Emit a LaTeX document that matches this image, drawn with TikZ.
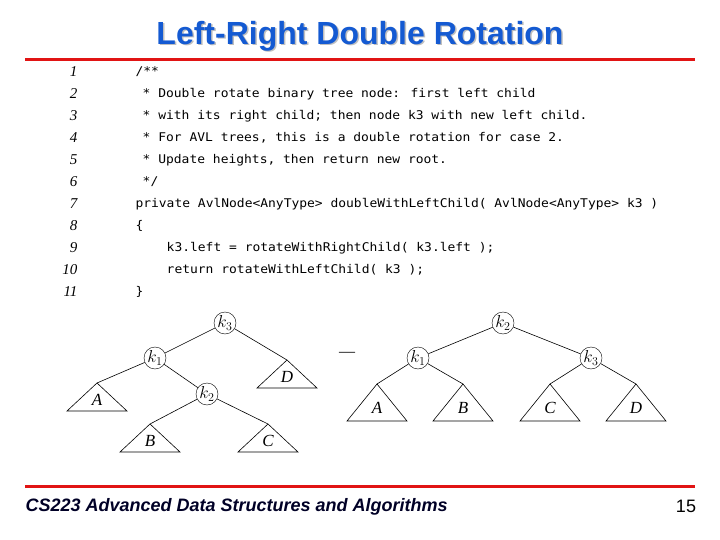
\documentclass[tikz,border=0pt]{standalone}
\usepackage{fontspec}
\usetikzlibrary{calc}
\setmainfont{Liberation Serif}
\setsansfont{Liberation Sans}
\newfontfamily\codefont[FakeStretch=1.08]{DejaVu Sans Mono}
\definecolor{titleblue}{RGB}{20,90,210}
\definecolor{rulered}{RGB}{225,20,20}
\begin{document}
\begin{tikzpicture}[x=1pt,y=-1pt,
  key/.style={circle,draw,inner sep=0pt,minimum size=22pt,font=\fontsize{17}{17}\selectfont},
  tri/.style={draw,line width=0.6pt},
  tlabel/.style={font=\itshape\fontsize{17}{17}\selectfont},
  edge/.style={line width=0.6pt},
  num/.style={anchor=east,font=\itshape\fontsize{15}{15}\selectfont},
  code/.style={anchor=west,font=\codefont\fontsize{12}{12}\selectfont}]
\useasboundingbox (0,0) rectangle (720,540);
% title
\node[font=\sffamily\bfseries\fontsize{32}{32}\selectfont,text=gray!50] at (361.5,37.5) {Left-Right Double Rotation};
\node[font=\sffamily\bfseries\fontsize{32}{32}\selectfont,text=titleblue] (title) at (360,36) {Left-Right Double Rotation};
\draw[rulered,line width=3pt] (25,60) -- (695,60);
\draw[rulered,line width=3pt] (25,486) -- (695,486);
% code
\foreach \n/\t [count=\i from 0] in {1/{/**},2/{\hspace*{0.6em}* Double rotate binary tree node: first left child},
 3/{\hspace*{0.6em}* with its right child; then node k3 with new left child.},4/{\hspace*{0.6em}* For AVL trees, this is a double rotation for case 2.},
 5/{\hspace*{0.6em}* Update heights, then return new root.},6/{\hspace*{0.6em}*/},7/{private AvlNode<AnyType> doubleWithLeftChild( AvlNode<AnyType> k3 )},
 8/{\{},9/{\hspace*{2.6em}k3.left = rotateWithRightChild( k3.left );},10/{\hspace*{2.6em}return rotateWithLeftChild( k3 );},11/{\}}}{
  \node[num] (n\n) at (81,72+22*\i) {\n};
  \node[code] (c\n) at (132,72+22*\i) {\t};
}
% left tree
\node[key] (L3) at (225,323) {$k_3$};
\node[key] (L1) at (155,358) {$k_1$};
\node[key] (L2) at (207,394) {$k_2$};
\coordinate (LD) at (287,360);
\coordinate (LA) at (97,383);
\coordinate (LB) at (150,424);
\coordinate (LC) at (268,424);
\foreach \c/\l in {LD/D,LA/A,LB/B,LC/C}{
  \draw[tri] (\c) -- ++(-30,28) -- ++(60,0) -- cycle;
  \node[tlabel] at ($(\c)+(0,17)$) {\l};
}
\draw[edge] (L3) -- (L1); \draw[edge] (L3) -- (LD);
\draw[edge] (L1) -- (LA); \draw[edge] (L1) -- (L2);
\draw[edge] (L2) -- (LB); \draw[edge] (L2) -- (LC);
% arrow
\node[font=\fontsize{16}{16}\selectfont] (arr) at (347,354) {—};
% right tree
\node[key] (R2) at (503,323) {$k_2$};
\node[key] (R1) at (418,358) {$k_1$};
\node[key] (R3) at (591,358) {$k_3$};
\coordinate (RA) at (377,384);
\coordinate (RB) at (463,384);
\coordinate (RC) at (550,384);
\coordinate (RD) at (636,384);
\foreach \c/\l in {RA/A,RB/B,RC/C,RD/D}{
  \draw[tri] (\c) -- ++(-30,37) -- ++(60,0) -- cycle;
  \node[tlabel] at ($(\c)+(0,24)$) {\l};
}
\draw[edge] (R2) -- (R1); \draw[edge] (R2) -- (R3);
\draw[edge] (R1) -- (RA); \draw[edge] (R1) -- (RB);
\draw[edge] (R3) -- (RC); \draw[edge] (R3) -- (RD);
% footer
\node[anchor=west,font=\sffamily\bfseries\itshape\fontsize{18}{18}\selectfont,text=black!85!blue] (foot) at (22,507) {CS223 Advanced Data Structures and Algorithms};
\node[font=\sffamily\fontsize{18}{18}\selectfont] (page) at (686,506) {15};
\end{tikzpicture}
\end{document}
